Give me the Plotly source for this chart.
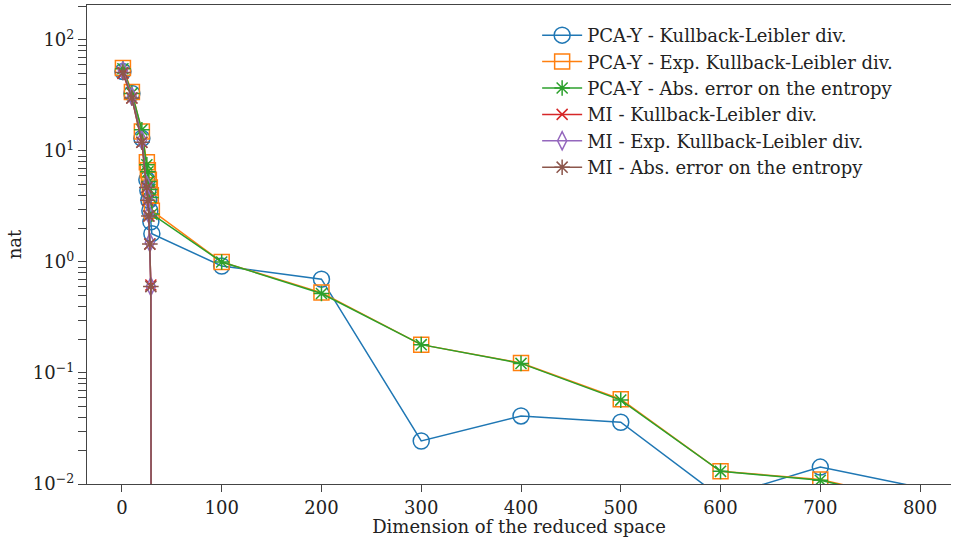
import plotly.graph_objects as go

# ---- data ----
x_pca = [1, 10, 20, 25, 26, 27, 28, 29, 30, 100, 200, 300, 400, 500, 600, 700, 900]
pca_kl = [52, 33, 13, 5.5, 4.4, 3.6, 2.9, 2.3, 1.8, 0.92, 0.70, 0.0244, 0.041, 0.036, 0.0076, 0.0142, 0.0061]
pca_expkl = [56, 34, 15, 7.9, 6.7, 5.5, 4.7, 4.0, 2.9, 1.0, 0.53, 0.18, 0.123, 0.058, 0.013, 0.011, 0.0042]
pca_abs = [55, 33, 15.5, 7.5, 6.5, 5.3, 4.5, 3.8, 2.7, 1.0, 0.52, 0.18, 0.122, 0.057, 0.013, 0.0108, 0.0042]

x_mi = [1, 10, 20, 25, 26, 27, 28, 29, 30]
mi_kl = [50, 30, 12, 4.7, 3.6, 2.6, 1.45, 0.62, 1e-8]
mi_expkl = [53, 31, 12.5, 4.9, 3.7, 2.7, 1.5, 0.6, 1e-8]
mi_abs = [51, 30, 12, 4.7, 3.6, 2.6, 1.45, 0.6, 1e-8]

names = [
    "PCA-Y - Kullback-Leibler div.",
    "PCA-Y - Exp. Kullback-Leibler div.",
    "PCA-Y - Abs. error on the entropy",
    "MI - Kullback-Leibler div.",
    "MI - Exp. Kullback-Leibler div.",
    "MI - Abs. error on the entropy",
]
colors = ["#1f77b4", "#ff7f0e", "#2ca02c", "#d62728", "#9467bd", "#8c564b"]
symbols = ["circle-open", "square-open", "asterisk-open", "x-thin-open", "diamond-tall-open", "asterisk-open"]
sizes = [16, 15, 13, 11, 13, 13]
xs = [x_pca, x_pca, x_pca, x_mi, x_mi, x_mi]
ys = [pca_kl, pca_expkl, pca_abs, mi_kl, mi_expkl, mi_abs]

x_ticks = [0, 100, 200, 300, 400, 500, 600, 700, 800]
y_major = [0.01, 0.1, 1, 10, 100]
y_major_text = ["10<sup>\u22122</sup>", "10<sup>\u22121</sup>", "10<sup>0</sup>", "10<sup>1</sup>", "10<sup>2</sup>"]
y_minor = [m * d for d in [0.01, 0.1, 1, 10, 100] for m in range(2, 10)]

# combined tick list: labelled decades + unlabelled minor ticks
y_tickvals = y_major + y_minor
y_ticktext = y_major_text + [""] * len(y_minor)

FONT = "DejaVu Serif"
YRANGE = [-2, 2.315]

fig = go.Figure()
for i in range(6):
    fig.add_trace(go.Scatter(
        x=xs[i], y=ys[i], name=names[i], mode="lines+markers",
        line=dict(color=colors[i], width=1.5),
        marker=dict(symbol=symbols[i], size=sizes[i], color=colors[i],
                    line=dict(color=colors[i], width=1.5)),
    ))

fig.update_layout(
    template="simple_white",
    width=953, height=537,
    margin=dict(l=87, r=2, t=5, b=53),
    plot_bgcolor="white", paper_bgcolor="white",
    font=dict(family=FONT, size=18, color="#222"),
    showlegend=True,
    legend=dict(x=0.521, y=0.975, xanchor="left", yanchor="top",
                bgcolor="rgba(255,255,255,0)", font=dict(size=18),
                tracegroupgap=0, itemwidth=40),
    xaxis=dict(range=[-35, 831], tickmode="array", tickvals=x_ticks,
               showgrid=False, zeroline=False, showline=True, linecolor="#444", linewidth=1.2,
               mirror=True, ticks="outside", ticklen=7, tickwidth=1.2, tickcolor="#444",
               tickfont=dict(size=18),
               title=dict(text="Dimension of the reduced space", standoff=2, font=dict(size=18))),
    yaxis=dict(type="log", range=YRANGE, tickmode="array", tickvals=y_tickvals, ticktext=y_ticktext,
               showgrid=False, zeroline=False, showline=True, linecolor="#444", linewidth=1.2,
               ticks="outside", ticklen=8, tickwidth=1.2, tickcolor="#444", tickfont=dict(size=18),
               title=dict(text="nat", standoff=6, font=dict(size=18))),
)

fig.write_html("out.html")
